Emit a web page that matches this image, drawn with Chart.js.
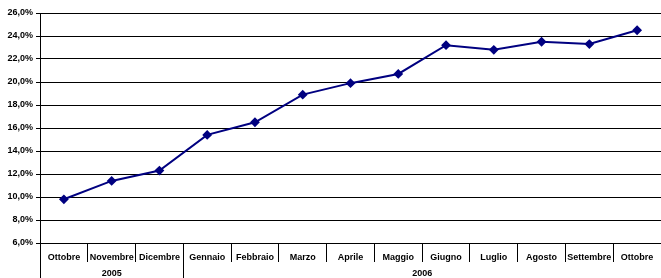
<!DOCTYPE html>
<html>
<head>
<meta charset="utf-8">
<script src="https://cdn.jsdelivr.net/npm/chart.js@4"></script>
<style>
  html, body { margin: 0; padding: 0; background: #fff; }
  #wrap { width: 661px; height: 278px; }
</style>
</head>
<body>
<div id="wrap"><canvas id="chart" width="661" height="278"></canvas></div>
<script>
// mesi e valori (%)
const months = ["Ottobre", "Novembre", "Dicembre", "Gennaio", "Febbraio", "Marzo", "Aprile",
  "Maggio", "Giugno", "Luglio", "Agosto", "Settembre", "Ottobre"];
const values = [9.8, 11.4, 12.3, 15.4, 16.5, 18.9, 19.9, 20.7, 23.2, 22.8, 23.5, 23.3, 24.5];

// anni: etichetta e indice primo/ultimo mese
const yearLabels = ["2005", "2006"];
const yearFirst = [0, 3];
const yearLast = [2, 12];

const yMin = 6, yMax = 26, yStep = 2;

const FONT = "'Liberation Sans', Arial, sans-serif";

const yearRow = {
  id: "yearRow",
  afterDraw(chart) {
    const ctx = chart.ctx;
    const x = chart.scales.x;
    const bottom = chart.height;
    ctx.save();
    ctx.strokeStyle = "#000";
    ctx.lineWidth = 1;
    // asse verticale prolungato fino in fondo
    ctx.beginPath();
    const ax = Math.round(x.left) + 0.5;
    ctx.moveTo(ax, x.top);
    ctx.lineTo(ax, bottom);
    ctx.stroke();
    ctx.fillStyle = "#000";
    ctx.font = "bold 9px " + FONT;
    ctx.textAlign = "center";
    ctx.textBaseline = "middle";
    yearLabels.forEach((lab, i) => {
      const half = (x.getPixelForValue(1) - x.getPixelForValue(0)) / 2;
      const l = x.getPixelForValue(yearFirst[i]) - half;
      const r = x.getPixelForValue(yearLast[i]) + half;
      ctx.fillText(lab, (l + r) / 2, bottom - 4);
      if (i > 0) {
        const sx = Math.round(l) + 0.5;
        ctx.beginPath();
        ctx.moveTo(sx, x.top);
        ctx.lineTo(sx, bottom);
        ctx.stroke();
      }
    });
    ctx.restore();
  }
};

new Chart(document.getElementById("chart"), {
  type: "line",
  data: {
    labels: months,
    datasets: [{
      data: values,
      borderColor: "#000080",
      backgroundColor: "#000080",
      borderWidth: 2,
      pointStyle: "rectRot",
      pointRadius: 3.5,
      pointBackgroundColor: "#000080",
      pointBorderColor: "#000080",
      tension: 0,
      fill: false
    }]
  },
  options: {
    responsive: false,
    animation: false,
    layout: { autoPadding: false, padding: { top: 13, right: 0, left: 0, bottom: 0 } },
    plugins: { legend: { display: false }, tooltip: { enabled: false } },
    scales: {
      x: {
        offset: true,
        grid: { offset: true, drawOnChartArea: false, tickLength: 19, color: "#000", lineWidth: 1 },
        border: { color: "#000" },
        ticks: {
          color: "#000",
          font: { family: FONT, size: 9, weight: "bold" },
          padding: -10,
          maxRotation: 0,
          minRotation: 0,
          autoSkip: false
        },
        afterFit(scale) { scale.height = 35; }
      },
      y: {
        min: yMin,
        max: yMax,
        grid: { color: "#000", lineWidth: 1, tickLength: 4 },
        border: { color: "#000" },
        ticks: {
          stepSize: yStep,
          color: "#000",
          font: { family: FONT, size: 9, weight: "bold" },
          padding: 3,
          callback: v => v.toFixed(1).replace(".", ",") + "%"
        },
        afterFit(scale) { scale.width = 40; }
      }
    }
  },
  plugins: [yearRow]
});
</script>
</body>
</html>
